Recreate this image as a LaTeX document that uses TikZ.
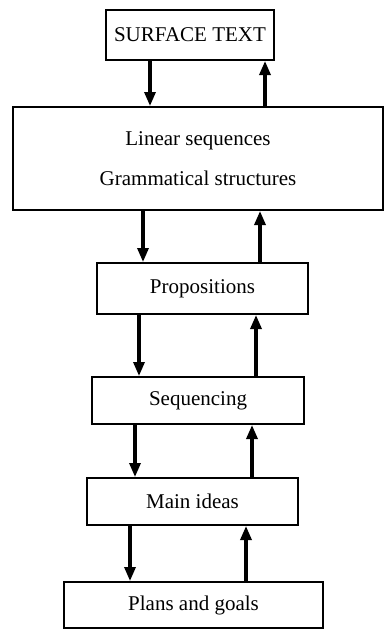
\documentclass[tikz,border=0pt]{standalone}
\usepackage{fontspec}
\setmainfont{Liberation Serif}
\usepackage{tikz}
\usetikzlibrary{positioning, arrows.meta}

\begin{document}
\begin{tikzpicture}[
        x=0.5pt, y=-0.5pt,
        box/.style={rectangle, draw, line width=1pt, inner sep=0pt, font=\fontsize{10.5}{12}\selectfont},
        down/.style={line width=1.6pt, -{Triangle[length=7pt, width=5.5pt]}},
        up/.style={line width=1.6pt, -{Triangle[length=7pt, width=5.5pt]}},
    ]
        \useasboundingbox (0,0) rectangle (385,632);

        % Levels
        \node[box, minimum width=84pt, minimum height=25pt] (surface) at (190,35) {SURFACE TEXT};
        \node[box, minimum width=185pt, minimum height=51.5pt, align=center] (linear) at (198,158.5) {Linear sequences\\[8pt]Grammatical structures};
        \node[box, minimum width=105.5pt, minimum height=25.5pt] (prop) at (202.5,288.5) {Propositions};
        \node[box, minimum width=106pt, minimum height=23.5pt] (seq) at (198,400.5) {Sequencing};
        \node[box, minimum width=105.5pt, minimum height=23.5pt] (main) at (192.5,501.5) {Main ideas};
        \node[box, minimum width=129.5pt, minimum height=23pt] (plans) at (193.5,605) {Plans and goals};

        % Flow down
        \draw[down] (surface.south -| 150,0) -- (linear.north -| 150,0);
        \draw[down] (linear.south -| 143,0) -- (prop.north -| 143,0);
        \draw[down] (prop.south -| 139,0) -- (seq.north -| 139,0);
        \draw[down] (seq.south -| 135,0) -- (main.north -| 135,0);
        \draw[down] (main.south -| 130,0) -- (plans.north -| 130,0);

        % Flow up
        \draw[up] (linear.north -| 265,0) -- (surface.south -| 265,0);
        \draw[up] (prop.north -| 260,0) -- (linear.south -| 260,0);
        \draw[up] (seq.north -| 256,0) -- (prop.south -| 256,0);
        \draw[up] (main.north -| 252,0) -- (seq.south -| 252,0);
        \draw[up] (plans.north -| 246,0) -- (main.south -| 246,0);

    \end{tikzpicture}
\end{document}
